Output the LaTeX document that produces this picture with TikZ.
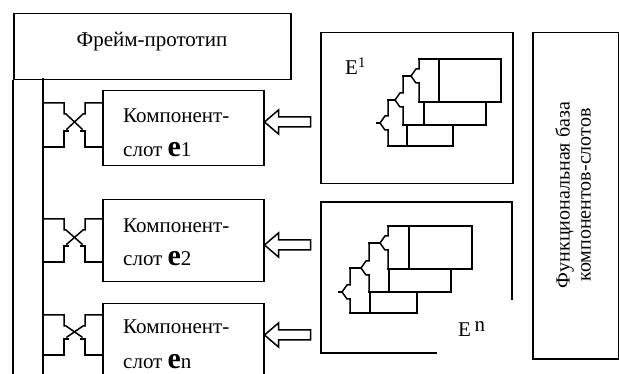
\documentclass[tikz,border=0pt]{standalone}
\usepackage{fontspec}
\setmainfont{Liberation Serif}
\usetikzlibrary{calc}
\tikzset{
  ln/.style={line width=1.5pt, line join=miter, line cap=rect},
  box/.style={draw, line width=1.5pt, rectangle, inner sep=0pt},
  txt/.style={font=\fontsize{21}{25}\selectfont, inner sep=0pt, anchor=base west},
  hollowarrow/.pic={\draw[ln, fill=white] (0,0) -- (14,-12) -- (14,-5) -- (46,-5) -- (46,5) -- (14,5) -- (14,12) -- cycle;}
}
\newcommand\xconn[2]{%
  \draw[ln] (43,#1) -- (64,#1) -- (64,{#1+11}) -- (66,{#1+11}) -- (82,{#2-18});
  \draw[ln] (102,#1) -- (85,#1) -- (85,{#1+11}) -- (83,{#1+11}) -- (67,{#2-18});
  \draw[ln] (43,#2) -- (64,#2) -- (64,{#2-16}) -- (68,{#2-16});
  \draw[ln] (102,#2) -- (85,#2) -- (85,{#2-16}) -- (81,{#2-16});
}
\newcommand\forkstep[5]{%
  \draw[ln] (#1,#2) -- (#1,{#3-7}) -- ({#1-3},{#3-7}) -- ({#1-8},#3) -- ({#1-3},{#3+7}) -- (#1,{#3+7}) -- (#1,#4);
  \draw[ln] ({#1-8},#3) -- (#5,#3);
}
\begin{document}
\begin{tikzpicture}[x=1pt,y=-1pt]
\useasboundingbox (0,0) rectangle (619,374);
\clip (0,0) rectangle (619,374);
\fill[white] (0,0) rectangle (619,374);

% frame prototype
\node[box, minimum width=277pt, minimum height=66pt, anchor=north west] (frame) at (13,13) {};
\node[txt, anchor=base] (ftext) at (152,47) {Фрейм-прототип};
\draw[ln] (frame.south west) -- (13,380);
\draw[ln] (43,79) -- (43,380);

% slots
\node[box, minimum width=161pt, minimum height=75pt, anchor=north west] (s1) at (102,90) {};
\node[box, minimum width=161pt, minimum height=82pt, anchor=north west] (s2) at (102,199) {};
\node[box, minimum width=161pt, minimum height=95pt, anchor=north west] (sn) at (102,303) {};

\node[txt] (s1a) at (123,123) {Компонент-};
\node[txt] (s1b) at (123,157) {слот {\bfseries\fontsize{30}{30}\selectfont e}1};
\node[txt] (s2a) at (123,233) {Компонент-};
\node[txt] (s2b) at (123,266) {слот {\bfseries\fontsize{30}{30}\selectfont e}2};
\node[txt] (sna) at (123,334) {Компонент-};
\node[txt] (snb) at (123,368) {слот {\bfseries\fontsize{30}{30}\selectfont e}n};

\xconn{103}{147}
\xconn{219}{262}
\xconn{315}{355}

% arrows
\coordinate (a1) at ($(s1.north east)+(0,32)$);
\coordinate (a2) at ($(s2.north east)+(0,46)$);
\coordinate (an) at ($(sn.north east)+(0,32)$);
\pic at (a1) {hollowarrow};
\pic at (a2) {hollowarrow};
\pic at (an) {hollowarrow};

% E1 box
\node[box, minimum width=192pt, minimum height=151pt, anchor=north west] (E1) at (320,32) {};
\node[txt, font=\fontsize{21}{24}\selectfont] (E1lab) at (345,75) {E\textsuperscript{1}};
\forkstep{419}{59}{76}{102}{403}
\forkstep{403}{76}{100}{125}{388}
\forkstep{388}{100}{123}{146}{377}
\draw[ln] (419,59) -- (501,59) -- (501,102) -- (419,102);
\draw[ln] (439,59) -- (439,102);
\draw[ln] (486,102) -- (486,125) -- (403,125);
\draw[ln] (424,102) -- (424,125);
\draw[ln] (453,125) -- (453,146) -- (388,146);
\draw[ln] (407,125) -- (407,146);

% En box
\draw[ln] (512,299) -- (512,202) -- (321,202) -- (321,353) -- (436,353);
\node[txt, font=\fontsize{21}{24}\selectfont] (Enlab) at (458,337) {E\,\raisebox{5pt}{n}};
\forkstep{388}{226}{243}{269}{369}
\forkstep{369}{243}{268}{292}{350}
\forkstep{350}{268}{292}{313}{339}
\draw[ln] (388,226) -- (472,226) -- (472,269) -- (388,269);
\draw[ln] (409,226) -- (409,269);
\draw[ln] (451,269) -- (451,292) -- (369,292);
\draw[ln] (389,269) -- (389,292);
\draw[ln] (417,292) -- (417,313) -- (350,313);
\draw[ln] (370,292) -- (370,313);

% functional base
\node[box, minimum width=86pt, minimum height=326pt, anchor=north west] (fb) at (532,32) {};
\node[rotate=90, align=center, inner sep=0pt, font=\fontsize{20}{21}\selectfont] (fbtext) at (573,195) {Функциональная база\\компонентов-слотов};
\end{tikzpicture}
\end{document}
